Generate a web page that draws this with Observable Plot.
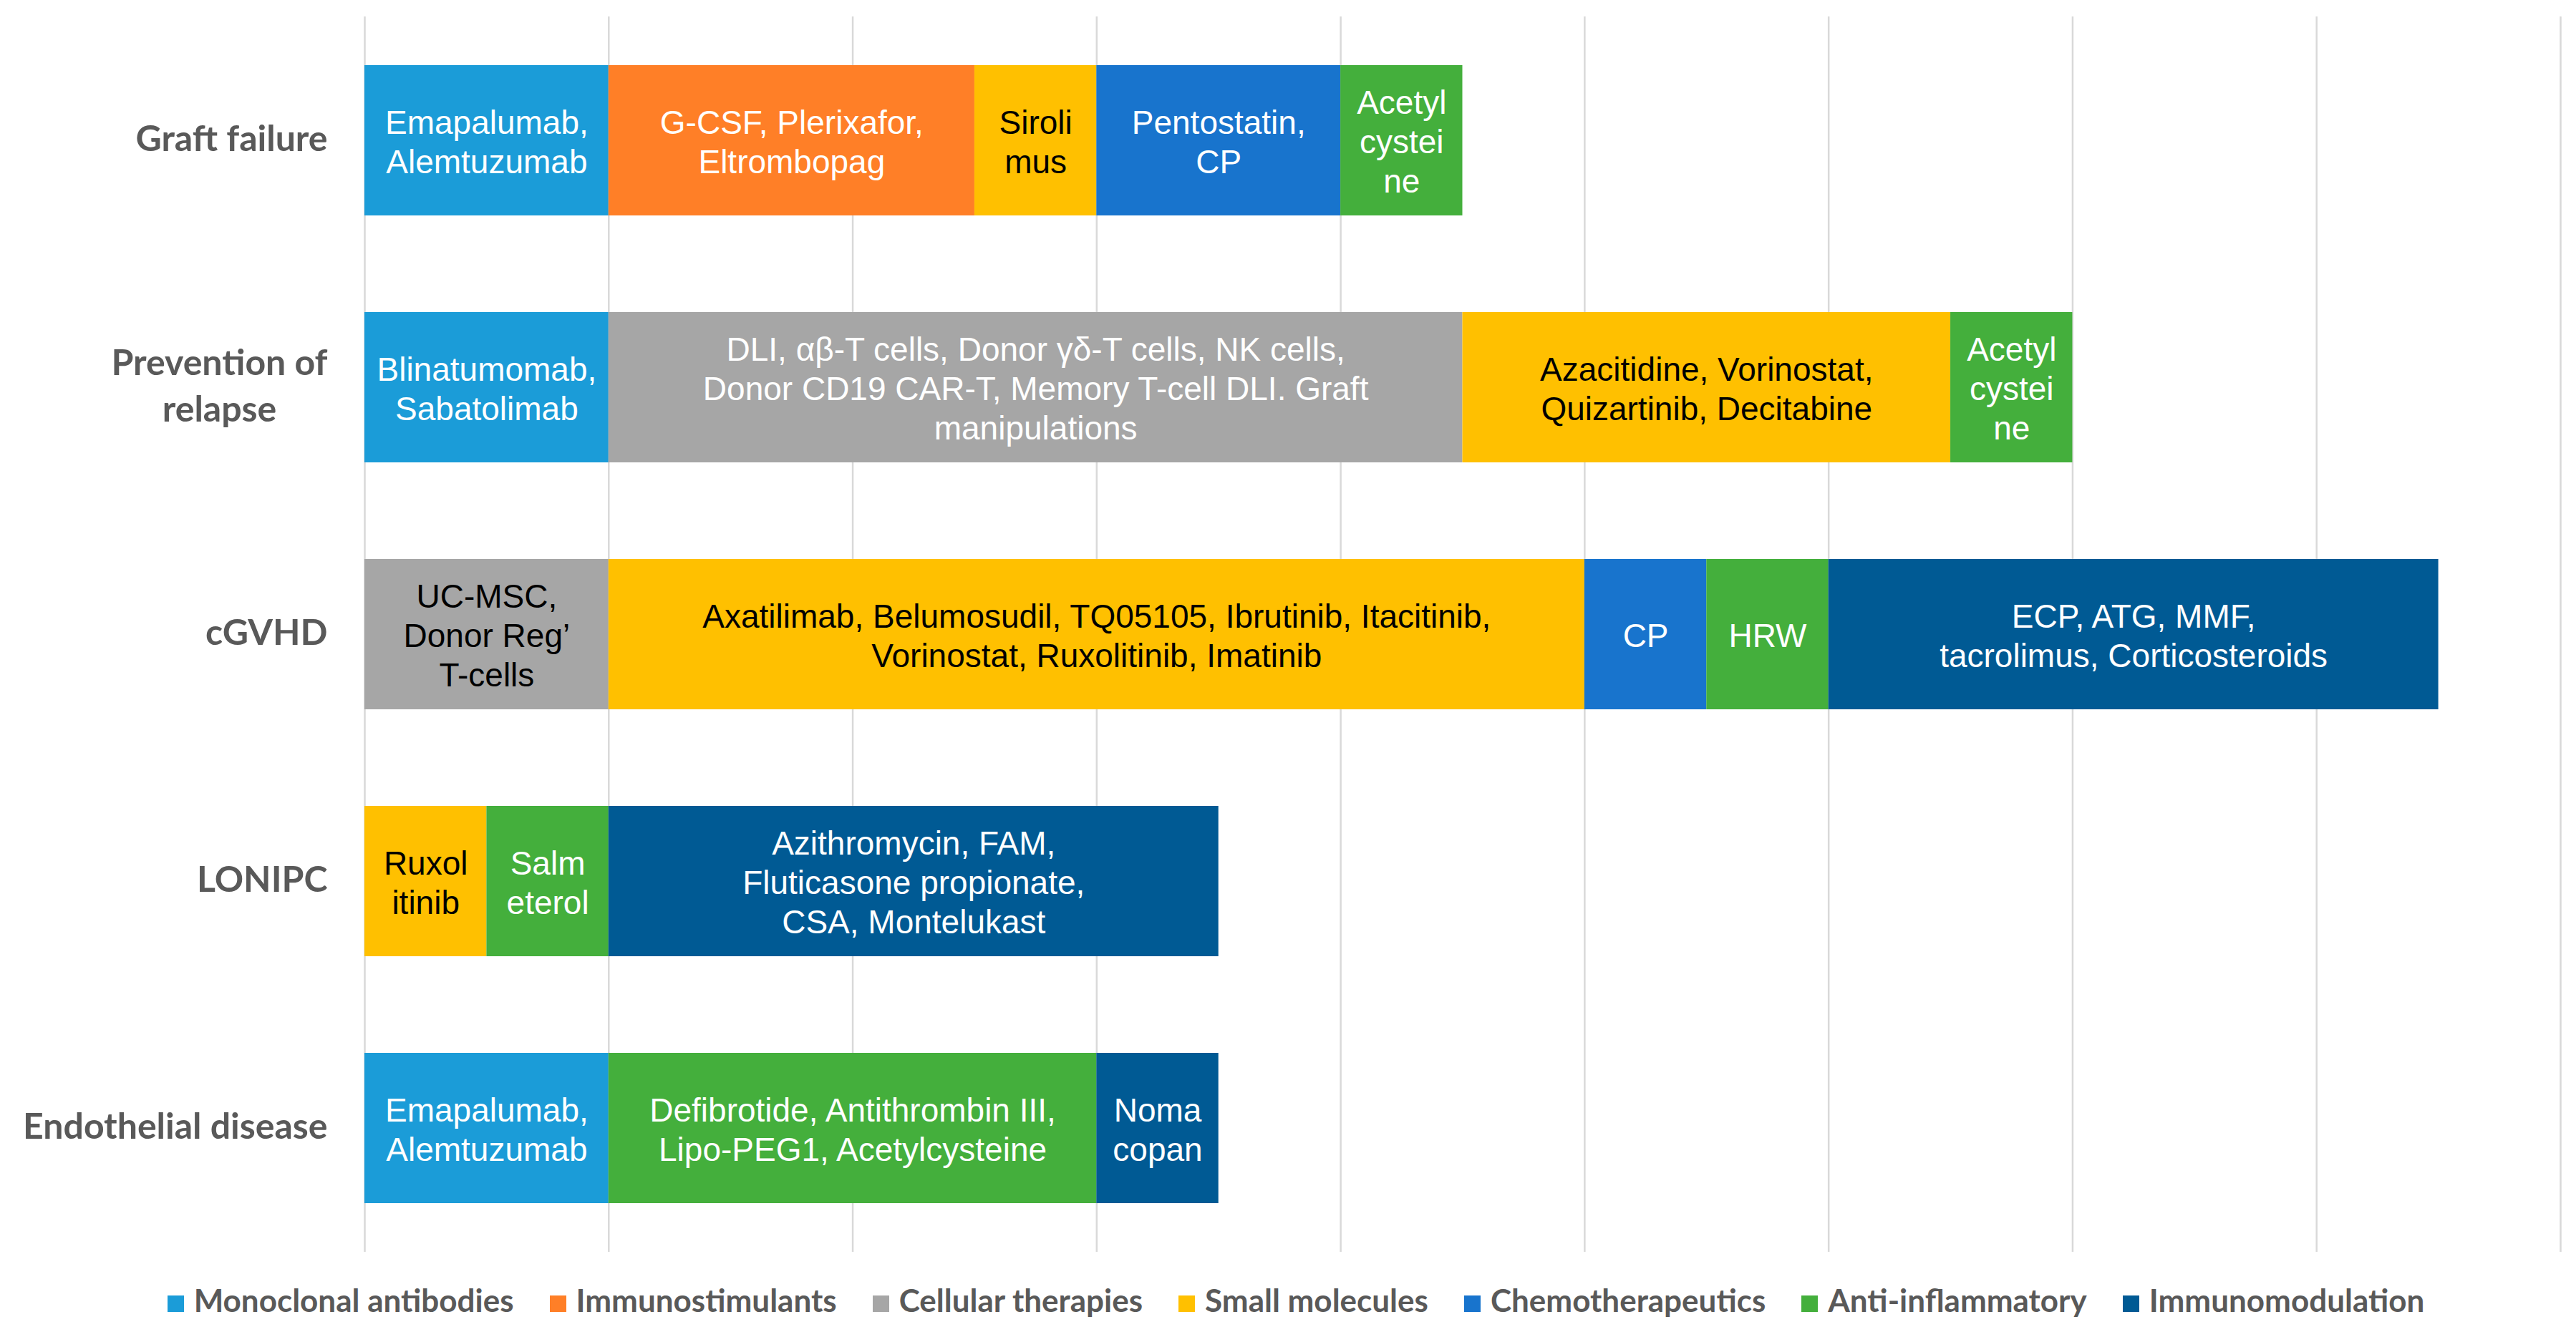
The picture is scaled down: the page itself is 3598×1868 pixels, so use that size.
<!DOCTYPE html>
<html>
<head>
<meta charset="utf-8">
<script src="https://cdn.jsdelivr.net/npm/d3@7"></script>
<script src="https://cdn.jsdelivr.net/npm/@observablehq/plot@0.6"></script>
<style>
  body { margin: 0; background: #ffffff; }
  #chart { width: 3598px; background: #ffffff; }
  #legend-wrap { width: 3598px; display: flex; justify-content: center; margin-top: 20px; padding-left: 72px; box-sizing: border-box; }
  .lg-swatch { margin-right: 50px !important; }
  .lg-swatch > svg { margin-right: 14px !important; position: relative; top: 5px; }
</style>
</head>
<body>
<div id="chart"></div>
<div id="legend-wrap"></div>
<script>
// ---- Data ----
const groups = ["Graft failure", "Prevention of\nrelapse", "cGVHD", "LONIPC", "Endothelial disease"];

const categories = ["Monoclonal antibodies", "Immunostimulants", "Cellular therapies", "Small molecules", "Chemotherapeutics", "Anti-inflammatory", "Immunomodulation"];
const categoryColors = ["#1B9CD8", "#FF7F27", "#A6A6A6", "#FFC000", "#1874CD", "#44AF3C", "#005A94"];

const graftFailureCategories = ["Monoclonal antibodies", "Immunostimulants", "Small molecules", "Chemotherapeutics", "Anti-inflammatory"];
const graftFailureValues = [1, 1.5, 0.5, 1, 0.5];
const graftFailureLabels = ["Emapalumab,\nAlemtuzumab", "G-CSF, Plerixafor,\nEltrombopag", "Siroli\nmus", "Pentostatin,\nCP", "Acetyl\ncystei\nne"];

const relapseCategories = ["Monoclonal antibodies", "Cellular therapies", "Small molecules", "Anti-inflammatory"];
const relapseValues = [1, 3.5, 2, 0.5];
const relapseLabels = ["Blinatumomab,\nSabatolimab", "DLI, αβ-T cells, Donor γδ-T cells, NK cells,\nDonor CD19 CAR-T, Memory T-cell DLI. Graft\nmanipulations", "Azacitidine, Vorinostat,\nQuizartinib, Decitabine", "Acetyl\ncystei\nne"];

const cgvhdCategories = ["Cellular therapies", "Small molecules", "Chemotherapeutics", "Anti-inflammatory", "Immunomodulation"];
const cgvhdValues = [1, 4, 0.5, 0.5, 2.5];
const cgvhdLabels = ["UC-MSC,\nDonor Reg’\nT-cells", "Axatilimab, Belumosudil, TQ05105, Ibrutinib, Itacitinib,\nVorinostat, Ruxolitinib, Imatinib", "CP", "HRW", "ECP, ATG, MMF,\ntacrolimus, Corticosteroids"];

const lonipcCategories = ["Small molecules", "Anti-inflammatory", "Immunomodulation"];
const lonipcValues = [0.5, 0.5, 2.5];
const lonipcLabels = ["Ruxol\nitinib", "Salm\neterol", "Azithromycin, FAM,\nFluticasone propionate,\nCSA, Montelukast"];

const endothelialCategories = ["Monoclonal antibodies", "Anti-inflammatory", "Immunomodulation"];
const endothelialValues = [1, 2, 0.5];
const endothelialLabels = ["Emapalumab,\nAlemtuzumab", "Defibrotide, Antithrombin III,\nLipo-PEG1, Acetylcysteine", "Noma\ncopan"];

// ---- Build table ----
const perGroup = [
  [graftFailureCategories, graftFailureValues, graftFailureLabels],
  [relapseCategories, relapseValues, relapseLabels],
  [cgvhdCategories, cgvhdValues, cgvhdLabels],
  [lonipcCategories, lonipcValues, lonipcLabels],
  [endothelialCategories, endothelialValues, endothelialLabels]
];
const rows = [];
perGroup.forEach(([cats, vals, labs], gi) => {
  cats.forEach((c, i) => rows.push({group: groups[gi], category: c, value: vals[i], label: labs[i]}));
});

const darkText = d => d.category === "Small molecules" || (d.category === "Cellular therapies" && d.group === "cGVHD");

const textOpts = {
  x: "value", y: "group",
  fontSize: 46, fontFamily: "'Liberation Sans', Arial, Helvetica, sans-serif", lineHeight: 1.2
};

const chart = Plot.plot({
  width: 3598,
  height: 1770,
  marginLeft: 509,
  marginRight: 22,
  marginTop: 23,
  marginBottom: 21,
  style: {background: "#ffffff", overflow: "visible"},
  x: {domain: [0, 9], axis: null},
  y: {domain: groups, paddingInner: 0.39, paddingOuter: 0.195, axis: null},
  color: {domain: categories, range: categoryColors},
  marks: [
    Plot.gridX({ticks: 9, stroke: "#D9D9D9", strokeOpacity: 1, strokeWidth: 2.5}),
    Plot.barX(rows, Plot.stackX({x: "value", y: "group", fill: "category", inset: 0})),
    Plot.text(rows, Plot.stackX({...textOpts, text: d => darkText(d) ? null : d.label, fill: "#ffffff"})),
    Plot.text(rows, Plot.stackX({...textOpts, text: d => darkText(d) ? d.label : null, fill: "#000000"})),
    Plot.axisY({
      tickSize: 0, tickPadding: 52, label: null, dy: -6,
      fontSize: 50, fontWeight: "bold", fontFamily: "Lato, 'Open Sans', sans-serif",
      color: "#595959", lineHeight: 1.3
    })
  ]
});
document.getElementById("chart").appendChild(chart);

// center-align multi-line y labels (as in the reference)
chart.querySelectorAll('[aria-label="y-axis tick label"] text').forEach(t => {
  const spans = t.querySelectorAll("tspan");
  if (spans.length > 1) {
    let w = 0;
    spans.forEach(s => { w = Math.max(w, s.getComputedTextLength()); });
    t.setAttribute("text-anchor", "middle");
    spans.forEach(s => s.setAttribute("x", -w / 2));
  }
});

const legend = Plot.legend({
  color: {type: "categorical", domain: categories, range: categoryColors},
  swatchSize: 23,
  className: "lg",
  style: {fontFamily: "Lato, 'Open Sans', sans-serif", fontSize: "44px", fontWeight: "bold", color: "#595959"}
});
document.getElementById("legend-wrap").appendChild(legend);
</script>
</body>
</html>
